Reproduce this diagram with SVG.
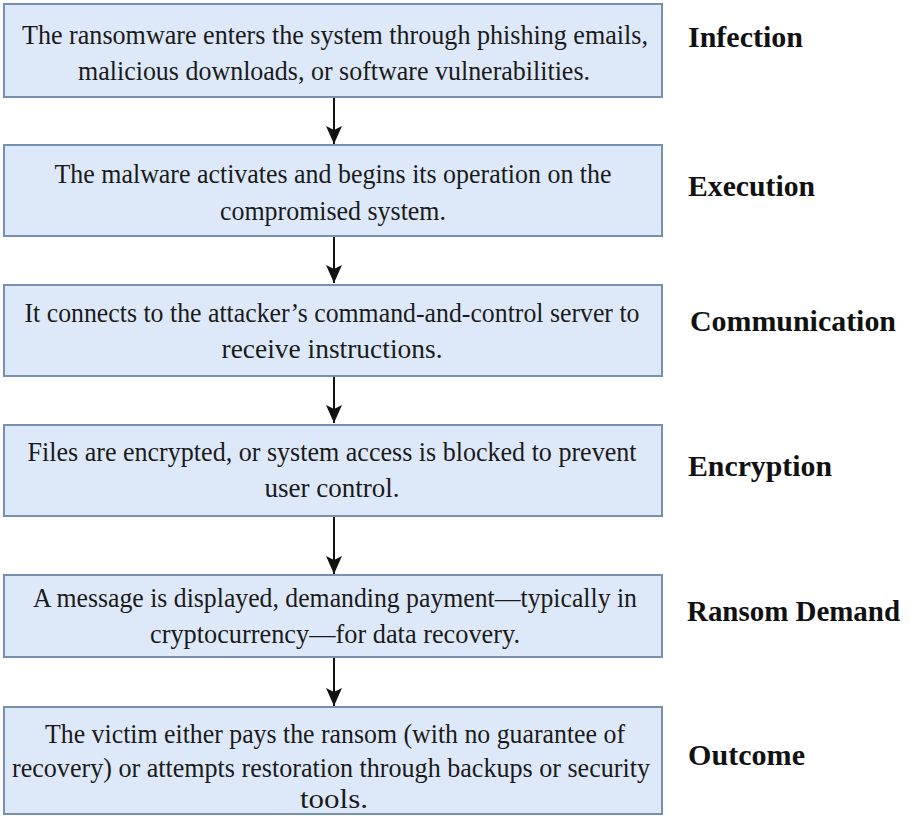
<svg xmlns="http://www.w3.org/2000/svg" width="910" height="816" viewBox="0 0 910 816" font-family="Liberation Serif, Times New Roman, serif">
<defs>
<style>
.box{fill:#dde9f9;stroke:#7890b0;stroke-width:2}
.t{font-size:27px;fill:#1a1a1a;text-anchor:middle}
.lab{font-size:30px;font-weight:bold;fill:#111}
.arr{stroke:#111;stroke-width:2;fill:none}
</style>
<marker id="ah" markerWidth="18" markerHeight="16" refX="18" refY="8" orient="auto" markerUnits="userSpaceOnUse" viewBox="0 0 18 16">
<path d="M0,0 L18,8 L0,16 L4,8 Z" fill="#111"/>
</marker>
</defs>
<rect width="910" height="816" fill="#ffffff"/>
<g id="connectors">
<line class="arr" x1="334" y1="98" x2="334" y2="144" marker-end="url(#ah)"/>
<line class="arr" x1="334" y1="237" x2="334" y2="283" marker-end="url(#ah)"/>
<line class="arr" x1="334" y1="377" x2="334" y2="423" marker-end="url(#ah)"/>
<line class="arr" x1="334" y1="517" x2="334" y2="574" marker-end="url(#ah)"/>
<line class="arr" x1="334" y1="658" x2="334" y2="706" marker-end="url(#ah)"/>
</g>
<g id="infection">
<rect class="box" x="4" y="4" width="658" height="93"/>
<text class="t" x="335" y="44" textLength="626" lengthAdjust="spacingAndGlyphs">The ransomware enters the system through phishing emails,</text>
<text class="t" x="334" y="80" textLength="512" lengthAdjust="spacingAndGlyphs">malicious downloads, or software vulnerabilities.</text>
<text class="lab" x="688" y="47" textLength="115" lengthAdjust="spacingAndGlyphs">Infection</text>
</g>
<g id="execution">
<rect class="box" x="4" y="145" width="658" height="91"/>
<text class="t" x="333" y="183" textLength="557" lengthAdjust="spacingAndGlyphs">The malware activates and begins its operation on the</text>
<text class="t" x="333" y="220" textLength="226" lengthAdjust="spacingAndGlyphs">compromised system.</text>
<text class="lab" x="688" y="196" textLength="127" lengthAdjust="spacingAndGlyphs">Execution</text>
</g>
<g id="communication">
<rect class="box" x="4" y="285" width="658" height="91"/>
<text class="t" x="332" y="322" textLength="615" lengthAdjust="spacingAndGlyphs">It connects to the attacker’s command-and-control server to</text>
<text class="t" x="332" y="358" textLength="221" lengthAdjust="spacingAndGlyphs">receive instructions.</text>
<text class="lab" x="690" y="331" textLength="206" lengthAdjust="spacingAndGlyphs">Communication</text>
</g>
<g id="encryption">
<rect class="box" x="4" y="425" width="658" height="91"/>
<text class="t" x="332" y="461" textLength="609" lengthAdjust="spacingAndGlyphs">Files are encrypted, or system access is blocked to prevent</text>
<text class="t" x="332" y="497" textLength="135" lengthAdjust="spacingAndGlyphs">user control.</text>
<text class="lab" x="688" y="476" textLength="144" lengthAdjust="spacingAndGlyphs">Encryption</text>
</g>
<g id="ransom-demand">
<rect class="box" x="4" y="575" width="658" height="82"/>
<text class="t" x="335" y="607" textLength="604" lengthAdjust="spacingAndGlyphs">A message is displayed, demanding payment—typically in</text>
<text class="t" x="335" y="643" textLength="370" lengthAdjust="spacingAndGlyphs">cryptocurrency—for data recovery.</text>
<text class="lab" x="687" y="621" textLength="213" lengthAdjust="spacingAndGlyphs">Ransom Demand</text>
</g>
<g id="outcome">
<rect class="box" x="4" y="707" width="658" height="107"/>
<text class="t" x="335" y="743" textLength="580" lengthAdjust="spacingAndGlyphs">The victim either pays the ransom (with no guarantee of</text>
<text class="t" x="331" y="777" textLength="638" lengthAdjust="spacingAndGlyphs">recovery) or attempts restoration through backups or security</text>
<text class="t" x="334" y="808" textLength="68" lengthAdjust="spacingAndGlyphs">tools.</text>
<text class="lab" x="688" y="765" textLength="117" lengthAdjust="spacingAndGlyphs">Outcome</text>
</g>
</svg>
